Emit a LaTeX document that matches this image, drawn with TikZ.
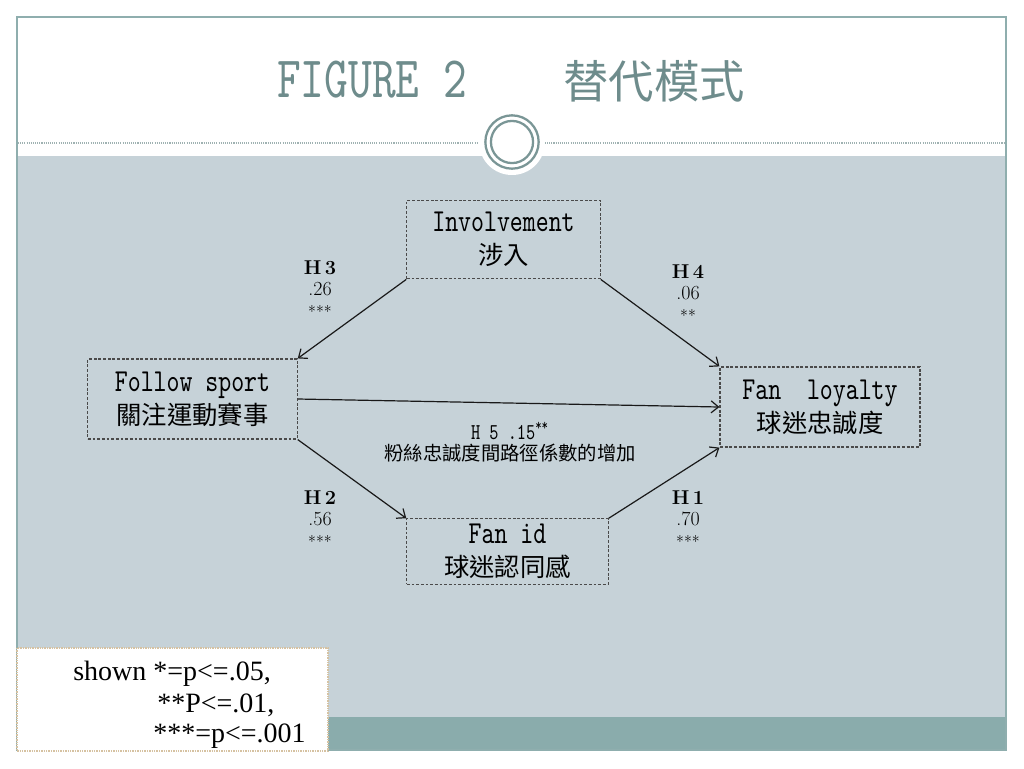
\documentclass[tikz,border=0pt]{standalone}
\usepackage{fontspec}
\usetikzlibrary{arrows.meta}
\newfontfamily\cjk{Noto Sans CJK TC}
\newfontfamily\tallmono{lmmono10-regular}[Extension=.otf,FakeStretch=0.77]
\newfontfamily\legendfont{Liberation Serif}
\definecolor{bgblue}{HTML}{C6D2D8}
\definecolor{bandteal}{HTML}{8AACAC}
\definecolor{framecol}{HTML}{8FAEAE}
\definecolor{titlecol}{HTML}{6E8C8C}
\definecolor{ringcol}{HTML}{7A9696}
\definecolor{dotcol}{HTML}{9FB2B2}
\definecolor{boxcol}{HTML}{4A4A4A}
\definecolor{legendborder}{HTML}{D6C2A2}
\begin{document}
\begin{tikzpicture}[x=0.75pt,y=-0.75pt,
  varbox/.style={draw=boxcol, line width=0.9pt, dash pattern=on 2.2pt off 1.3pt,
    rectangle, inner sep=0pt, align=center,
    font=\tallmono\fontsize{24}{24}\selectfont},
  path/.style={draw=black!90, line width=0.9pt, -{Straight Barb[length=5.5pt,width=9pt]}},
  hlab/.style={align=center, inner sep=0pt, font=\fontsize{15}{16}\selectfont},
]
\useasboundingbox (0,0) rectangle (1024,768);
\fill[white] (0,0) rectangle (1024,768);
% background areas
\fill[bgblue] (17,156) rectangle (1006,717);
\fill[bandteal] (17,717) rectangle (1006,750);
\draw[framecol, line width=1.1pt] (17,17) rectangle (1006,750);
% dotted separator and ornament
\draw[dotcol, line width=1pt, dash pattern=on 0.8pt off 0.8pt] (18,143) -- (1005,143);
\fill[white] (512,142) circle [radius=24.75pt];
\draw[ringcol, line width=1.7pt] (512,142) circle [radius=20pt];
\draw[ringcol, line width=1.7pt] (512,142) circle [radius=15.8pt];
% title
\node[anchor=base, inner sep=0pt, text=titlecol, font=\tallmono\fontsize{44}{44}\selectfont] (t1) at (372,97) {FIGURE 2};
\node[anchor=center, inner sep=0pt, text=titlecol, font=\cjk\fontsize{34}{34}\selectfont] (t2) at (654,81) {替代模式};
% variable boxes
\node[varbox, minimum width=145pt, minimum height=59pt] (inv) at (503.5,239.5)
  {Involvement\\[1pt]{\cjk\fontsize{19}{24}\selectfont 涉入}};
\node[varbox, minimum width=157pt, minimum height=60pt] (fs) at (192.5,399)
  {Follow sport\\[1pt]{\cjk\fontsize{19}{24}\selectfont 關注運動賽事}};
\node[varbox, minimum width=150pt, minimum height=60pt] (fl) at (820,407)
  {Fan\ \ loyalty\\[1pt]{\cjk\fontsize{19}{24}\selectfont 球迷忠誠度}};
\node[varbox, minimum width=151pt, minimum height=49pt] (fid) at (507.5,551.5)
  {Fan id\\[1pt]{\cjk\fontsize{19}{24}\selectfont 球迷認同感}};
% paths
\draw[path] (inv.south west) -- (fs.north east);
\draw[path] (inv.south east) -- (fl.north west);
\draw[path] (fs.east) -- (fl.west);
\draw[path] (fs.south east) -- (fid.north west);
\draw[path] (fid.north east) -- (fl.south west);
% path labels
\node[hlab] (h3) at (320,289) {\textbf{H\,3}\\.26\\{\fontsize{12}{16}\selectfont ***}};
\node[hlab] (h4) at (688,293) {\textbf{H\,4}\\.06\\{\fontsize{12}{16}\selectfont **}};
\node[hlab] (h2) at (320,519) {\textbf{H\,2}\\.56\\{\fontsize{12}{16}\selectfont ***}};
\node[hlab] (h1) at (688,519) {\textbf{H\,1}\\.70\\{\fontsize{12}{16}\selectfont ***}};
\node[inner sep=0pt, font=\tallmono\fontsize{17}{18}\selectfont] (h5) at (510,431) {H 5 .15\textsuperscript{**}};
\node[inner sep=0pt, font=\cjk\fontsize{14.5}{16}\selectfont] (h5b) at (510,453) {粉絲忠誠度間路徑係數的增加};
% legend
\draw[legendborder, fill=white, line width=0.8pt, dash pattern=on 1pt off 0.8pt] (17,648) rectangle (328,751);
\node[anchor=base west, inner sep=0pt, font=\legendfont\fontsize{21}{24}\selectfont] (lg1) at (73,680) {shown *=p<=.05,};
\node[anchor=base west, inner sep=0pt, font=\legendfont\fontsize{21}{24}\selectfont] (lg2) at (157,712) {**P<=.01,};
\node[anchor=base west, inner sep=0pt, font=\legendfont\fontsize{21}{24}\selectfont] (lg3) at (153,742) {***=p<=.001};
\end{tikzpicture}
\end{document}
